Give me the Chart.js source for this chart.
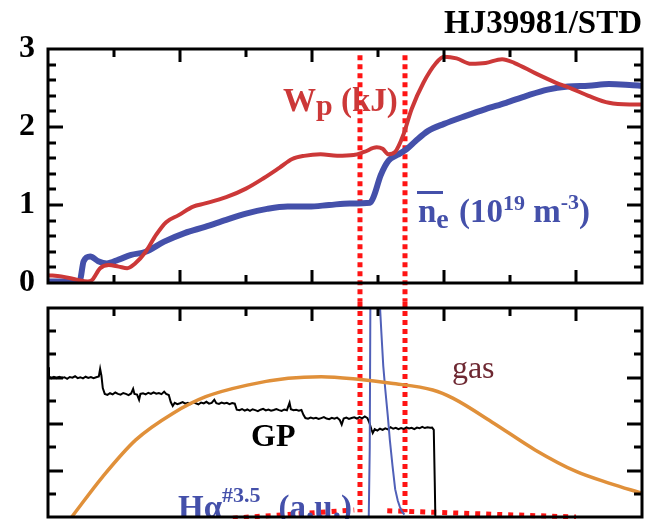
<!DOCTYPE html>
<html>
<head>
<meta charset="utf-8">
<script src="https://cdn.jsdelivr.net/npm/chart.js@4.4.1/dist/chart.umd.min.js"></script>
<style>
  html, body { margin: 0; padding: 0; background: #fff; }
  #wrap { position: relative; width: 645px; height: 519px; overflow: hidden; }
  canvas { position: absolute; left: 0; }
  #topPanel { top: 0; }
  #bottomPanel { top: 302px; }
</style>
</head>
<body>
<div id="wrap">
  <canvas id="topPanel" width="645" height="302"></canvas>
  <canvas id="bottomPanel" width="645" height="217"></canvas>
</div>
<script>
// shared time axis
const timeTicks = [1, 2, 3, 4, 5, 6, 7, 8];
const timeMajor = [2, 4, 6, 8];

// upper panel axis
const topYTicks = [0.2, 0.4, 0.6, 0.8, 1, 1.2, 1.4, 1.6, 1.8, 2, 2.2, 2.4, 2.6, 2.8];
const topYMajor = [1, 2];
const topYLabels = [0, 1, 2, 3];

// lower panel axis
const botYTicks = [1, 2, 3, 4, 5, 6, 7, 8];
const botYMajor = [2, 4, 6];

// stored energy Wp (kJ)
const wpTime  = [0, 0.2, 0.45, 0.6, 0.67, 0.79, 0.92, 1.07, 1.2, 1.32, 1.48, 1.64, 1.79, 1.98, 2.2, 2.38, 2.7, 3.0, 3.26, 3.51, 3.7, 3.88, 4.13, 4.38, 4.63, 4.79, 4.98, 5.07, 5.16, 5.26, 5.38, 5.51, 5.69, 5.88, 6.0, 6.19, 6.41, 6.63, 6.88, 7.07, 7.38, 7.69, 7.94, 8.19, 8.5, 8.81, 9.0];
const wpValue = [0.1, 0.085, 0.04, 0.02, 0.04, 0.19, 0.23, 0.21, 0.19, 0.25, 0.40, 0.62, 0.78, 0.87, 0.98, 1.02, 1.10, 1.21, 1.34, 1.48, 1.59, 1.63, 1.65, 1.63, 1.64, 1.68, 1.74, 1.72, 1.65, 1.68, 1.89, 2.23, 2.57, 2.82, 2.90, 2.88, 2.81, 2.82, 2.87, 2.82, 2.69, 2.57, 2.49, 2.40, 2.31, 2.29, 2.29];

// line-averaged density ne (1e19 m^-3)
const neTime  = [0, 0.48, 0.54, 0.64, 0.76, 0.89, 1.07, 1.26, 1.48, 1.76, 2.07, 2.38, 2.7, 3.0, 3.32, 3.63, 3.95, 4.26, 4.57, 4.88, 4.94, 5.04, 5.16, 5.29, 5.44, 5.57, 5.76, 6.0, 6.32, 6.63, 6.94, 7.25, 7.57, 7.88, 8.19, 8.5, 8.81, 9.0];
const neValue = [0.02, 0.03, 0.28, 0.34, 0.28, 0.25, 0.30, 0.36, 0.40, 0.53, 0.64, 0.72, 0.81, 0.89, 0.95, 0.98, 0.98, 1.0, 1.02, 1.03, 1.12, 1.38, 1.57, 1.64, 1.72, 1.82, 1.95, 2.04, 2.14, 2.23, 2.31, 2.40, 2.48, 2.52, 2.53, 2.55, 2.54, 2.53];

// gas puff valve (GP)
const gpTime  = [0, 0.015, 0.05, 0.09, 0.13, 0.17, 0.21, 0.25, 0.29, 0.33, 0.37, 0.41, 0.45, 0.49, 0.53, 0.57, 0.61, 0.65, 0.69, 0.73, 0.77, 0.79, 0.81, 0.83,
  0.86, 0.9, 0.94, 0.98, 1.02, 1.06, 1.1, 1.14, 1.18, 1.22, 1.26, 1.29, 1.31, 1.35, 1.38, 1.4, 1.44, 1.48, 1.52, 1.56, 1.6, 1.64, 1.68, 1.72, 1.76, 1.79, 1.83,
  1.86, 1.89, 1.92, 1.96, 2.0, 2.04, 2.08, 2.12, 2.16, 2.2, 2.24, 2.28, 2.32, 2.36, 2.4, 2.44, 2.48, 2.52, 2.55, 2.59, 2.63, 2.67, 2.71, 2.75, 2.79, 2.83,
  2.86, 2.9, 2.94, 2.98, 3.02, 3.06, 3.1, 3.14, 3.18, 3.22, 3.26, 3.3, 3.34, 3.38, 3.42, 3.46, 3.5, 3.54, 3.58, 3.62, 3.66, 3.68, 3.72, 3.76, 3.8, 3.84,
  3.87, 3.9, 3.94, 3.98, 4.02, 4.06, 4.1, 4.14, 4.18, 4.22, 4.26, 4.3, 4.34, 4.38, 4.42, 4.45, 4.48, 4.52, 4.56, 4.6, 4.64, 4.68, 4.72, 4.76, 4.8, 4.84,
  4.87, 4.9, 4.92, 4.95, 4.99, 5.03, 5.07, 5.11, 5.15, 5.19, 5.23, 5.27, 5.31, 5.35, 5.39, 5.43, 5.47, 5.51, 5.55, 5.59, 5.63, 5.67, 5.71, 5.75, 5.79, 5.82,
  5.845, 5.86, 5.87];
const gpValue = [6.45, 6.05, 5.97, 6.03, 5.98, 6.04, 5.99, 6.02, 5.95, 6.03, 6.0, 6.06, 5.98, 6.02, 5.97, 6.04, 5.99, 6.03, 5.98, 6.02, 6.05, 6.38, 6.08, 5.55,
  5.3, 5.26, 5.33, 5.28, 5.36, 5.3, 5.27, 5.34, 5.3, 5.25, 5.32, 5.52, 5.3, 5.27, 5.05, 5.3, 5.33, 5.28, 5.35, 5.3, 5.37, 5.31, 5.34, 5.29, 5.4, 5.3, 5.25,
  4.95, 4.78, 4.92, 4.86, 4.9, 4.95, 4.88, 4.92, 4.86, 4.94, 4.9, 4.85, 4.93, 4.89, 4.96, 4.88, 4.91, 5.05, 4.9, 4.87, 4.93, 4.89, 4.92, 4.86, 4.91, 4.88,
  4.62, 4.6, 4.65, 4.58, 4.63, 4.57, 4.64, 4.6, 4.56, 4.62, 4.66, 4.59, 4.63, 4.58, 4.61, 4.65, 4.6, 4.57, 4.63, 4.6, 4.92, 4.64, 4.6, 4.62, 4.58, 4.61,
  4.4, 4.26, 4.23, 4.28, 4.24, 4.27, 4.22, 4.26, 4.3, 4.24, 4.21, 4.27, 4.23, 4.28, 4.18, 3.98, 4.24, 4.28, 4.22, 4.26, 4.29, 4.24, 4.3, 4.25, 4.33, 4.26,
  4.05, 3.78, 3.62, 3.78, 3.72, 3.8, 3.75, 3.82, 3.77, 3.87, 3.8, 3.84, 3.78, 3.83, 3.79, 3.86, 3.81, 3.84, 3.78, 3.85, 3.82, 3.88, 3.83, 3.86, 3.84, 3.85,
  3.75, 1.5, -0.2];

// gas flow
const gasTime  = [0.36, 0.83, 1.33, 1.89, 2.39, 3.02, 3.64, 4.14, 4.7, 5.2, 5.83, 6.14, 6.76, 7.38, 8.01, 8.51, 9.0];
const gasValue = [0, 1.74, 3.32, 4.46, 5.18, 5.68, 5.97, 6.04, 5.93, 5.76, 5.47, 5.11, 4.03, 2.89, 1.95, 1.45, 1.02];

// H-alpha #3.5 (a.u.)
const haTime  = [4.86, 4.875, 4.885, 4.92, 4.97, 5.02, 5.05, 5.08, 5.11, 5.15, 5.18, 5.22, 5.26, 5.3, 5.33, 5.36, 5.4];
const haValue = [0, 3, 9.6, 10, 10, 9.6, 8.0, 6.5, 5.5, 4.3, 3.3, 2.2, 1.2, 0.7, 0.45, 0.25, 0.1];

// phase markers
const markerTimes = [4.727, 5.409];
const markerTopSpan = [2.92, -0.24];
const markerBotSpan = [9.26, 0.2];
const lowMarkLeftTime = [2.8, 4.64];
const lowMarkLeftValue = [-0.05, 0.3];
const lowMarkRightTime = [5.14, 8.0];
const lowMarkRightValue = [0.27, 0.0];

const SERIF = '"Liberation Serif", "DejaVu Serif", serif';
const RED = '#cc3838';
const BLUE = '#4450aa';
const MARK = '#ff1414';

function pts(xs, ys) {
  return xs.map((x, i) => ({x, y: ys[i]}));
}

function markerSets(span) {
  return markerTimes.map(t => ({
    data: pts([t, t], span),
    borderColor: MARK, borderWidth: 5, borderDash: [5, 4],
    pointRadius: 0, clip: false
  }));
}

// rich text: [text, size, dy, weight, gapBefore]
function drawRich(ctx, x, y, parts, color) {
  ctx.fillStyle = color;
  ctx.textAlign = 'left';
  ctx.textBaseline = 'alphabetic';
  parts.forEach(([text, size, dy = 0, weight = 'bold', gap = 0]) => {
    x += gap;
    ctx.font = `${weight} ${size}px ${SERIF}`;
    ctx.fillText(text, x, y + dy);
    x += ctx.measureText(text).width;
  });
}

// box frame with inward tick marks on every side
function makeFrame(cfg) {
  return {
    id: 'frame',
    afterDraw(chart) {
      const ctx = chart.ctx;
      const a = chart.chartArea;
      const xs = chart.scales.x;
      const ys = chart.scales.y;
      ctx.save();
      ctx.fillStyle = '#000';
      for (const v of cfg.xTicks) {
        const px = Math.round(xs.getPixelForValue(v));
        const len = cfg.xMajor.indexOf(v) >= 0 ? 13 : 8;
        ctx.fillRect(px - 1.5, a.top, 3, len);
        if (cfg.bottomTicks) ctx.fillRect(px - 1.5, a.bottom - len, 3, len);
      }
      for (const v of cfg.yTicks) {
        const py = Math.round(ys.getPixelForValue(v));
        const len = cfg.yMajor.indexOf(v) >= 0 ? 15 : 8;
        ctx.fillRect(a.left, py - 1.5, len, 3);
        ctx.fillRect(a.right - len, py - 1.5, len, 3);
      }
      ctx.strokeStyle = '#000';
      ctx.lineWidth = 3;
      ctx.strokeRect(a.left, a.top, a.right - a.left, a.bottom - a.top);
      ctx.restore();
    }
  };
}

// curve labels and run title
function makeLabels(cfg) {
  return {
    id: 'curveLabels',
    afterDatasetsDraw(chart) {
      const {ctx, scales: {x, y}} = chart;
      ctx.save();
      cfg.items.forEach(item => {
        const px = x.getPixelForValue(item.at[0]);
        const py = y.getPixelForValue(item.at[1]);
        if (item.bar) {
          ctx.fillStyle = item.color;
          ctx.fillRect(px - 1, py - item.bar, 26, 3);
        }
        drawRich(ctx, px, py, item.parts, item.color);
      });
      if (cfg.title) {
        ctx.font = `bold 33px ${SERIF}`;
        ctx.fillStyle = '#000';
        ctx.textAlign = 'right';
        ctx.textBaseline = 'alphabetic';
        ctx.fillText(cfg.title, chart.width - 3, 33);
      }
      ctx.restore();
    }
  };
}

Chart.defaults.font.family = SERIF;

new Chart(document.getElementById('topPanel'), {
  type: 'line',
  data: {
    datasets: [
      { data: pts(wpTime, wpValue), borderColor: RED, borderWidth: 4, pointRadius: 0, cubicInterpolationMode: 'monotone' },
      { data: pts(neTime, neValue), borderColor: BLUE, borderWidth: 6, pointRadius: 0, cubicInterpolationMode: 'monotone' },
      ...markerSets(markerTopSpan)
    ]
  },
  options: {
    responsive: false,
    animation: false,
    devicePixelRatio: 1,
    layout: { padding: { top: 49, right: 3, bottom: 19, left: 0 } },
    scales: {
      x: { type: 'linear', min: 0, max: 9, display: false },
      y: {
        type: 'linear', min: 0, max: 3,
        afterFit: s => { s.width = 48; s.paddingTop = 0; s.paddingBottom = 0; },
        grid: { display: false, drawTicks: false },
        border: { display: false },
        ticks: {
          stepSize: 0.2, padding: 13, color: '#000', autoSkip: false,
          font: { size: 32, weight: 'bold', family: SERIF },
          callback: v => topYLabels.includes(Math.round(v * 1000) / 1000) ? String(Math.round(v)) : ''
        }
      }
    },
    plugins: { legend: { display: false }, tooltip: { enabled: false } }
  },
  plugins: [
    makeFrame({ xTicks: timeTicks, xMajor: timeMajor, yTicks: topYTicks, yMajor: topYMajor, bottomTicks: true }),
    makeLabels({
      title: 'HJ39981/STD',
      items: [
        { at: [3.56, 2.2], color: RED, parts: [['W', 33], ['p', 30, 4], [' (kJ)', 33]] },
        { at: [5.606, 0.782], color: BLUE, bar: 31,
          parts: [['n', 33], ['e', 28, 6], [' (10', 33, 0, 'bold', 2], ['19', 22, -12], [' m', 33], ['-3', 22, -13], [')', 33]] }
      ]
    })
  ]
});

new Chart(document.getElementById('bottomPanel'), {
  type: 'line',
  data: {
    datasets: [
      { data: pts(gasTime, gasValue), borderColor: '#e0903a', borderWidth: 3.5, pointRadius: 0, cubicInterpolationMode: 'monotone' },
      { data: pts(haTime, haValue), borderColor: '#5060b8', borderWidth: 2, pointRadius: 0, tension: 0 },
      { data: pts(gpTime, gpValue), borderColor: '#000', borderWidth: 2, pointRadius: 0, tension: 0 },
      ...markerSets(markerBotSpan),
      { data: pts(lowMarkLeftTime, lowMarkLeftValue), borderColor: MARK, borderWidth: 5, borderDash: [5, 6], pointRadius: 0, clip: false },
      { data: pts(lowMarkRightTime, lowMarkRightValue), borderColor: MARK, borderWidth: 5, borderDash: [5, 6], pointRadius: 0, clip: false }
    ]
  },
  options: {
    responsive: false,
    animation: false,
    devicePixelRatio: 1,
    layout: { padding: { top: 6, right: 3, bottom: 2, left: 48 } },
    scales: {
      x: { type: 'linear', min: 0, max: 9, display: false },
      y: { type: 'linear', min: 0, max: 9, display: false }
    },
    plugins: { legend: { display: false }, tooltip: { enabled: false } }
  },
  plugins: [
    makeFrame({ xTicks: timeTicks, xMajor: timeMajor, yTicks: botYTicks, yMajor: botYMajor, bottomTicks: false }),
    makeLabels({
      items: [
        { at: [3.076, 3.06], color: '#000', parts: [['GP', 32]] },
        { at: [6.12, 5.99], color: '#6e2832', parts: [['gas', 32, 0, 'normal']] },
        { at: [1.97, -0.04], color: BLUE, parts: [['Hα', 33], ['#3.5', 22, -16], ['(a.u.)', 33, 0, 'bold', 18]] }
      ]
    })
  ]
});
</script>
</body>
</html>
